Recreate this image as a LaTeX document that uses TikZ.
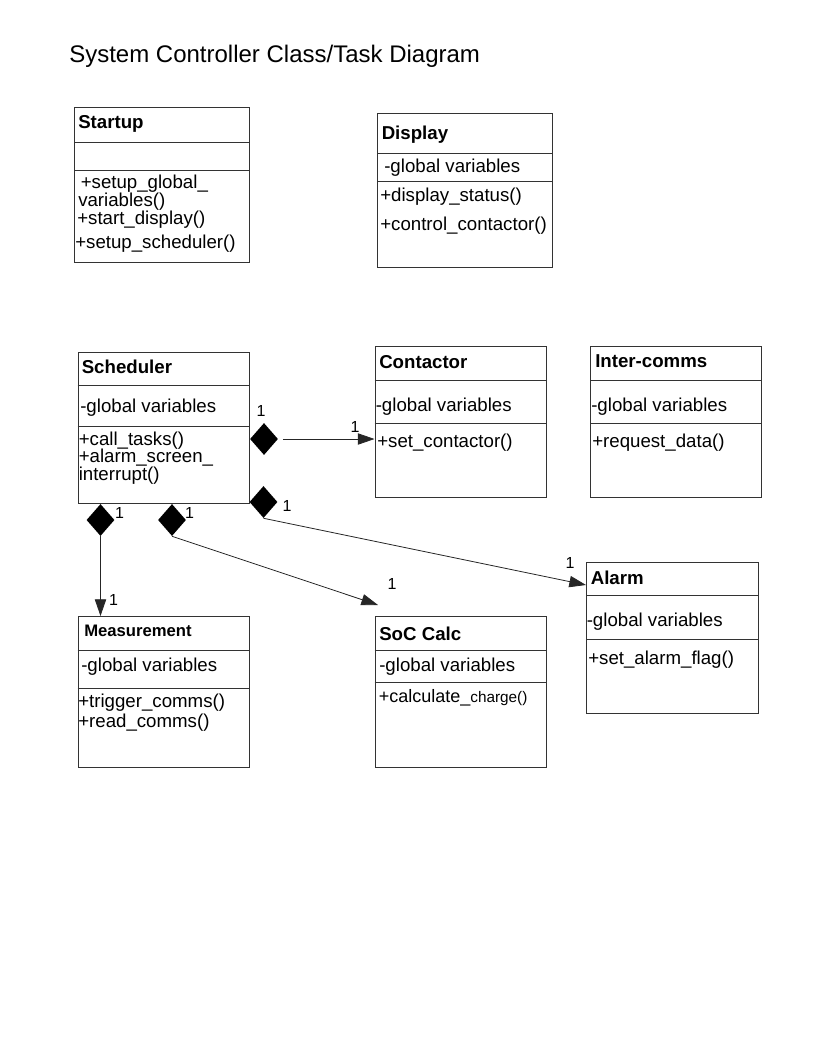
\documentclass[tikz,border=0pt]{standalone}
\usepackage{fontspec}
\setmainfont{Liberation Sans}
\usetikzlibrary{shapes.geometric,arrows.meta}
\begin{document}
\begin{tikzpicture}[x=0.75pt,y=-0.75pt,
  cls/.style 2 args={draw=black!80, line width=0.75pt, anchor=north west, minimum width=#1*0.75pt, minimum height=#2*0.75pt, inner sep=0pt},
  div/.style={draw=black!80, line width=0.75pt},
  txt/.style={anchor=west, inner sep=0pt, yshift=-1.2pt, text=black, font=\fontsize{14}{16}\selectfont},
  ttl/.style={anchor=west, inner sep=0pt, yshift=-1.2pt, text=black, font=\fontsize{14}{16}\selectfont\bfseries},
  mult/.style={inner sep=0pt, text=black, font=\fontsize{12}{14}\selectfont},
  dia/.style={diamond, fill=black, inner sep=0pt, minimum width=21pt, minimum height=24pt},
  arr/.style={-{Triangle[length=12.5pt,width=8.5pt]}, line width=0.6pt, draw=black!85}
]
\useasboundingbox (0,0) rectangle (816,1056);

\node[anchor=west, inner sep=0pt, yshift=-1.5pt, font=\fontsize{18}{20}\selectfont] (title) at (69,54) {System Controller Class/Task Diagram};

% Startup
\node[cls={175}{155}] (startup) at (74,107) {};
\draw[div] (startup.west |- 0,142.5) -- (startup.east |- 0,142.5);
\draw[div] (startup.west |- 0,170) -- (startup.east |- 0,170);
\node[ttl] (startupT) at (78,122) {Startup};
\node[txt] (startupM1) at (80.5,182) {+setup\_global\_};
\node[txt] (startupM2) at (78,200) {variables()};
\node[txt] (startupM3) at (77,218) {+start\_display()};
\node[txt] (startupM4) at (75,242.5) {+setup\_scheduler()};

% Display
\node[cls={175}{154}] (display) at (377,113) {};
\draw[div] (display.west |- 0,153.5) -- (display.east |- 0,153.5);
\draw[div] (display.west |- 0,181) -- (display.east |- 0,181);
\node[ttl] (displayT) at (381.5,133) {Display};
\node[txt] (displayA) at (384,166) {-global variables};
\node[txt] (displayM1) at (380,195.5) {+display\_status()};
\node[txt] (displayM2) at (380,224) {+control\_contactor()};

% Scheduler
\node[cls={171.5}{151}] (scheduler) at (77.5,351.5) {};
\draw[div] (scheduler.west |- 0,385.5) -- (scheduler.east |- 0,385.5);
\draw[div] (scheduler.west |- 0,426.5) -- (scheduler.east |- 0,426.5);
\node[ttl] (schedulerT) at (81.5,365) {Scheduler};
\node[txt] (schedulerA) at (80,406.5) {-global variables};
\node[txt] (schedulerM1) at (78.5,439) {+call\_tasks()};
\node[txt] (schedulerM2) at (78.5,456) {+alarm\_screen\_};
\node[txt] (schedulerM3) at (78.5,474) {interrupt()};

% Contactor
\node[cls={171}{151}] (contactor) at (374.5,345.5) {};
\draw[div] (contactor.west |- 0,380) -- (contactor.east |- 0,380);
\draw[div] (contactor.west |- 0,423) -- (contactor.east |- 0,423);
\node[ttl] (contactorT) at (379,360) {Contactor};
\node[txt] (contactorA) at (375.5,405.5) {-global variables};
\node[txt] (contactorM) at (377,441) {+set\_contactor()};

% Inter-comms
\node[cls={171}{151}] (intercomms) at (590,345.5) {};
\draw[div] (intercomms.west |- 0,380) -- (intercomms.east |- 0,380);
\draw[div] (intercomms.west |- 0,423) -- (intercomms.east |- 0,423);
\node[ttl] (intercommsT) at (595,360) {Inter-comms};
\node[txt] (intercommsA) at (591,405.5) {-global variables};
\node[txt] (intercommsM) at (592,441) {+request\_data()};

% Alarm
\node[cls={171.5}{151}] (alarm) at (586,561.5) {};
\draw[div] (alarm.west |- 0,595.5) -- (alarm.east |- 0,595.5);
\draw[div] (alarm.west |- 0,639) -- (alarm.east |- 0,639);
\node[ttl] (alarmT) at (590.5,576) {Alarm};
\node[txt] (alarmA) at (586.5,620.5) {-global variables};
\node[txt] (alarmM) at (588,658) {+set\_alarm\_flag()};

% Measurement
\node[cls={171.5}{150.5}] (measurement) at (77.5,616) {};
\draw[div] (measurement.west |- 0,650) -- (measurement.east |- 0,650);
\draw[div] (measurement.west |- 0,688) -- (measurement.east |- 0,688);
\node[anchor=west, inner sep=0pt, yshift=-1.2pt, font=\fontsize{12.5}{14}\selectfont\bfseries, text=black] (measurementT) at (84,629.5) {Measurement};
\node[txt] (measurementA) at (81,665) {-global variables};
\node[txt] (measurementM1) at (78,701.5) {+trigger\_comms()};
\node[txt] (measurementM2) at (78,721.5) {+read\_comms()};

% SoC Calc
\node[cls={171.5}{150.5}] (soc) at (374.5,616) {};
\draw[div] (soc.west |- 0,650) -- (soc.east |- 0,650);
\draw[div] (soc.west |- 0,682.5) -- (soc.east |- 0,682.5);
\node[ttl] (socT) at (379,632.5) {SoC Calc};
\node[txt] (socA) at (379,665.5) {-global variables};
\node[txt] (socM) at (378.5,696.5) {\fontsize{13.5}{16}\selectfont+calculate\_{\fontsize{11.5}{14}\selectfont charge()}};

% Diamonds
\node[dia] (d1) at (264,439) {};
\node[dia] (d2) at (263.5,502) {};
\node[dia] (d3) at (100.5,520) {};
\node[dia] (d4) at (172,520) {};

% Connectors
\coordinate (socend) at (378,605);
\draw[arr] ([xshift=3.5pt]d1.east) -- (contactor.west |- d1);
\draw[arr] (d2.south) -- (alarm.west |- 0,585);
\draw[arr] (d3.south) -- (d3 |- measurement.north);
\draw[arr] (d4.south) -- (socend);

% Multiplicities
\node[mult] (m1) at (261,411) {1};
\node[mult] (m2) at (355,426.5) {1};
\node[mult] (m3) at (287,505.5) {1};
\node[mult] (m4) at (570,562.5) {1};
\node[mult] (m5) at (119.5,512.5) {1};
\node[mult] (m6) at (113.5,599.5) {1};
\node[mult] (m7) at (189.5,512.5) {1};
\node[mult] (m8) at (392,584) {1};
\end{tikzpicture}
\end{document}
